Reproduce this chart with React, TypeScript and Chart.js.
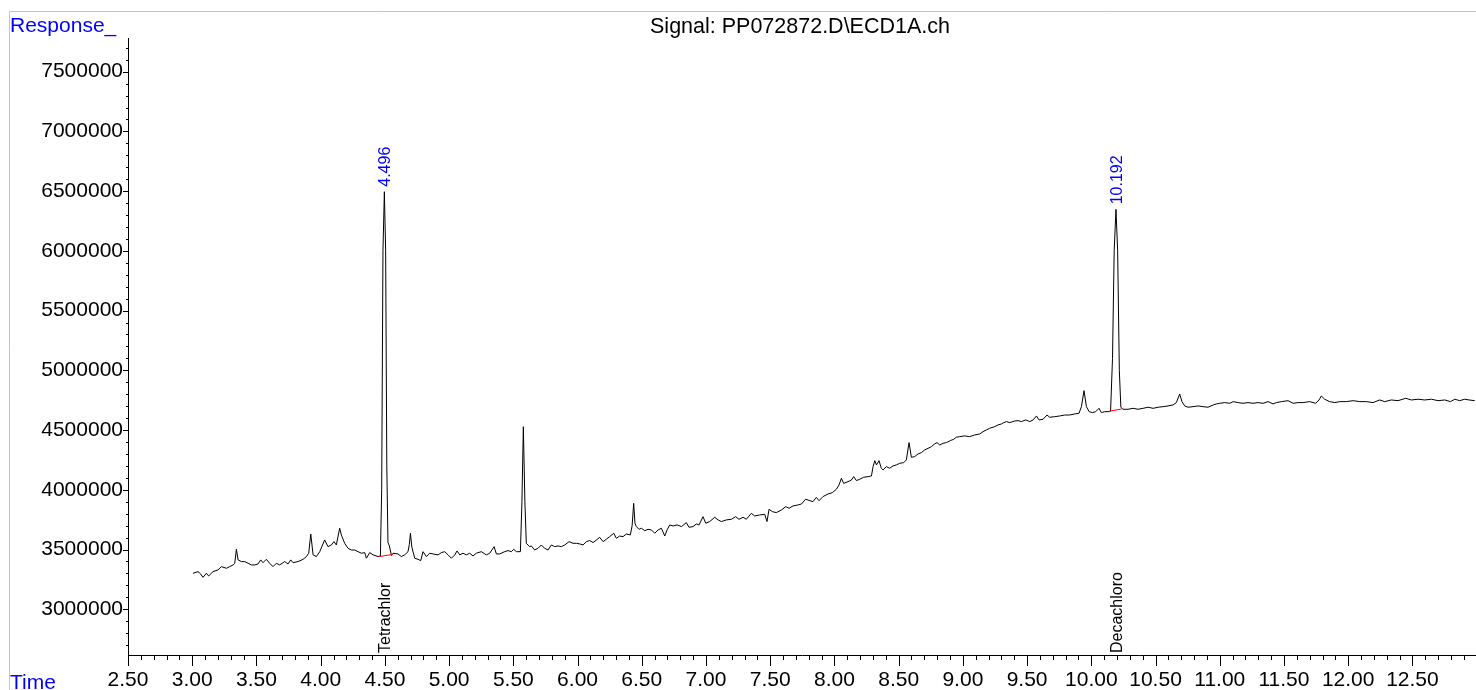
import React, { useEffect, useRef } from "react";
import { Chart, registerables } from "chart.js";

Chart.register(...registerables);

const FONT = '"Liberation Sans", Arial, Helvetica, sans-serif';

const chartTitle = "Signal: PP072872.D\\ECD1A.ch";
const yAxisTitle = "Response_";
const xAxisTitle = "Time";

// Retention time (min) of each sampled point of the trace
const retentionTimes: number[] = [
  3.006, 3.045, 3.066, 3.084, 3.110, 3.128, 3.162, 3.201, 3.227, 3.266,
  3.292, 3.318, 3.331, 3.344, 3.357, 3.383, 3.409, 3.435, 3.461, 3.487,
  3.512, 3.533, 3.551, 3.577, 3.603, 3.629, 3.655, 3.681, 3.720, 3.746,
  3.767, 3.785, 3.824, 3.863, 3.889, 3.907, 3.923, 3.941, 3.967, 3.993,
  4.031, 4.057, 4.083, 4.104, 4.122, 4.148, 4.161, 4.187, 4.213, 4.239,
  4.265, 4.291, 4.317, 4.343, 4.356, 4.382, 4.408, 4.447, 4.465, 4.475,
  4.485, 4.496, 4.506, 4.515, 4.524, 4.535, 4.551, 4.564, 4.602, 4.628,
  4.654, 4.680, 4.690, 4.699, 4.710, 4.732, 4.758, 4.779, 4.797, 4.823,
  4.849, 4.875, 4.914, 4.940, 4.966, 4.992, 5.018, 5.044, 5.062, 5.083,
  5.108, 5.134, 5.160, 5.186, 5.212, 5.251, 5.290, 5.316, 5.350, 5.368,
  5.394, 5.433, 5.459, 5.485, 5.503, 5.524, 5.555, 5.567, 5.578, 5.590,
  5.601, 5.627, 5.640, 5.666, 5.692, 5.718, 5.744, 5.770, 5.796, 5.822,
  5.848, 5.874, 5.900, 5.934, 5.965, 5.991, 6.017, 6.043, 6.069, 6.095,
  6.121, 6.147, 6.172, 6.199, 6.224, 6.250, 6.282, 6.302, 6.328, 6.354,
  6.380, 6.411, 6.425, 6.437, 6.447, 6.458, 6.479, 6.497, 6.523, 6.549,
  6.575, 6.601, 6.627, 6.653, 6.679, 6.697, 6.718, 6.744, 6.775, 6.809,
  6.847, 6.868, 6.899, 6.925, 6.946, 6.977, 6.998, 7.029, 7.068, 7.094,
  7.120, 7.159, 7.198, 7.231, 7.257, 7.289, 7.314, 7.353, 7.379, 7.418,
  7.457, 7.475, 7.491, 7.517, 7.548, 7.587, 7.621, 7.647, 7.678, 7.717,
  7.743, 7.776, 7.808, 7.833, 7.859, 7.880, 7.911, 7.950, 7.984, 8.015,
  8.036, 8.054, 8.072, 8.106, 8.132, 8.150, 8.171, 8.197, 8.228, 8.262,
  8.288, 8.301, 8.314, 8.327, 8.347, 8.365, 8.379, 8.404, 8.430, 8.456,
  8.482, 8.508, 8.539, 8.560, 8.581, 8.599, 8.625, 8.651, 8.677, 8.703,
  8.729, 8.755, 8.781, 8.799, 8.820, 8.846, 8.872, 8.903, 8.929, 8.949,
  8.975, 9.014, 9.053, 9.092, 9.131, 9.157, 9.183, 9.209, 9.248, 9.274,
  9.300, 9.318, 9.339, 9.365, 9.404, 9.430, 9.456, 9.490, 9.521, 9.547,
  9.573, 9.593, 9.624, 9.655, 9.676, 9.715, 9.754, 9.793, 9.832, 9.871,
  9.904, 9.923, 9.943, 9.962, 9.983, 10.009, 10.034, 10.060, 10.078, 10.104,
  10.138, 10.150, 10.165, 10.178, 10.192, 10.205, 10.218, 10.230, 10.247, 10.286,
  10.325, 10.364, 10.403, 10.442, 10.481, 10.520, 10.559, 10.598, 10.636, 10.662,
  10.688, 10.706, 10.727, 10.753, 10.792, 10.831, 10.870, 10.909, 10.948, 10.975,
  11.000, 11.039, 11.078, 11.104, 11.143, 11.181, 11.220, 11.259, 11.298, 11.337,
  11.376, 11.415, 11.441, 11.480, 11.532, 11.571, 11.610, 11.649, 11.700, 11.747,
  11.773, 11.791, 11.817, 11.856, 11.895, 11.934, 11.986, 12.038, 12.090, 12.142,
  12.193, 12.245, 12.284, 12.336, 12.388, 12.448, 12.492, 12.544, 12.596, 12.648,
  12.700, 12.752, 12.796, 12.830, 12.868, 12.907, 12.941, 12.985,
];

// Detector response at each retention time
const responseValues: number[] = [
  3301000, 3315000, 3295000, 3267000, 3301000, 3279000, 3315000, 3329000, 3357000, 3343000,
  3357000, 3371000, 3385000, 3502000, 3413000, 3399000, 3399000, 3385000, 3371000, 3371000,
  3379000, 3413000, 3390000, 3418000, 3385000, 3357000, 3385000, 3371000, 3399000, 3379000,
  3413000, 3390000, 3399000, 3418000, 3441000, 3469000, 3630000, 3455000, 3441000, 3482000,
  3580000, 3524000, 3538000, 3566000, 3538000, 3678000, 3622000, 3552000, 3510000, 3496000,
  3496000, 3482000, 3469000, 3474000, 3427000, 3474000, 3455000, 3441000, 3445000, 4000000,
  6000000, 6495000, 6000000, 4200000, 3560000, 3530000, 3450000, 3469000, 3463000, 3441000,
  3455000, 3482000, 3540000, 3636000, 3520000, 3427000, 3418000, 3407000, 3482000, 3441000,
  3469000, 3463000, 3455000, 3474000, 3482000, 3455000, 3427000, 3455000, 3488000, 3455000,
  3469000, 3455000, 3469000, 3446000, 3469000, 3482000, 3455000, 3469000, 3524000, 3463000,
  3463000, 3482000, 3491000, 3482000, 3502000, 3482000, 3482000, 3900000, 4528000, 3900000,
  3552000, 3524000, 3530000, 3496000, 3510000, 3538000, 3510000, 3496000, 3538000, 3524000,
  3530000, 3524000, 3538000, 3566000, 3552000, 3552000, 3547000, 3538000, 3566000, 3575000,
  3558000, 3580000, 3602000, 3566000, 3586000, 3608000, 3636000, 3594000, 3613000, 3608000,
  3630000, 3622000, 3700000, 3887000, 3720000, 3692000, 3669000, 3678000, 3658000, 3669000,
  3664000, 3636000, 3664000, 3678000, 3613000, 3664000, 3706000, 3697000, 3706000, 3692000,
  3725000, 3686000, 3692000, 3714000, 3706000, 3775000, 3720000, 3734000, 3770000, 3748000,
  3734000, 3748000, 3753000, 3775000, 3753000, 3770000, 3753000, 3803000, 3781000, 3789000,
  3795000, 3734000, 3837000, 3817000, 3809000, 3831000, 3859000, 3845000, 3865000, 3873000,
  3881000, 3921000, 3909000, 3901000, 3937000, 3909000, 3943000, 3965000, 3976000, 4004000,
  4041000, 4096000, 4054000, 4068000, 4082000, 4110000, 4077000, 4088000, 4105000, 4110000,
  4116000, 4194000, 4244000, 4208000, 4244000, 4180000, 4166000, 4194000, 4180000, 4200000,
  4208000, 4222000, 4227000, 4250000, 4395000, 4272000, 4278000, 4300000, 4311000, 4334000,
  4347000, 4361000, 4384000, 4395000, 4375000, 4389000, 4395000, 4412000, 4423000, 4440000,
  4445000, 4451000, 4445000, 4459000, 4467000, 4487000, 4501000, 4515000, 4529000, 4543000,
  4551000, 4562000, 4571000, 4562000, 4576000, 4579000, 4571000, 4585000, 4571000, 4585000,
  4618000, 4585000, 4590000, 4626000, 4607000, 4612000, 4618000, 4626000, 4626000, 4635000,
  4640000, 4696000, 4830000, 4696000, 4654000, 4646000, 4654000, 4682000, 4646000, 4654000,
  4654000, 4660000, 5100000, 6000000, 6348000, 6000000, 5000000, 4690000, 4674000, 4674000,
  4682000, 4674000, 4682000, 4691000, 4682000, 4691000, 4696000, 4702000, 4710000, 4730000,
  4802000, 4738000, 4702000, 4691000, 4696000, 4702000, 4696000, 4691000, 4710000, 4719000,
  4724000, 4730000, 4724000, 4738000, 4730000, 4724000, 4730000, 4724000, 4730000, 4724000,
  4738000, 4719000, 4730000, 4738000, 4746000, 4724000, 4730000, 4730000, 4738000, 4724000,
  4752000, 4785000, 4758000, 4738000, 4730000, 4738000, 4738000, 4746000, 4738000, 4738000,
  4730000, 4752000, 4738000, 4752000, 4746000, 4766000, 4752000, 4758000, 4752000, 4758000,
  4746000, 4752000, 4738000, 4758000, 4746000, 4758000, 4752000, 4746000,
];

// Integrated peaks
const peakTimes = [4.496, 10.192];
const peakApexValues = [6495000, 6348000];
const peakLabels = ["4.496", "10.192"];
const compoundNames = ["Tetrachlor", "Decachloro"];

// Integration baselines (red) for each peak
const baselineStartTimes = [4.452, 10.138];
const baselineStartValues = [3440000, 4657000];
const baselineEndTimes = [4.563, 10.235];
const baselineEndValues = [3460000, 4676000];

// Axis ranges and labelled ticks
const xMin = 2.5;
const xMax = 12.995;
const yMin = 2617000;
const yMax = 7782000;
const xMajorTickLabels = [
  "2.50", "3.00", "3.50", "4.00", "4.50", "5.00", "5.50", "6.00", "6.50", "7.00", "7.50",
  "8.00", "8.50", "9.00", "9.50", "10.00", "10.50", "11.00", "11.50", "12.00", "12.50",
];
const yMajorTickLabels = [
  "3000000", "3500000", "4000000", "4500000", "5000000",
  "5500000", "6000000", "6500000", "7000000", "7500000",
];

const overlayPlugin = {
  id: "chromOverlay",
  afterDraw(chart: any) {
    const { ctx, chartArea, scales } = chart;
    const xs = scales.x;
    const ys = scales.y;
    ctx.save();

    // frame (light green)
    ctx.strokeStyle = "#8ee88e";
    ctx.lineWidth = 1;
    ctx.beginPath();
    ctx.moveTo(9.5, 690);
    ctx.lineTo(9.5, 11.5);
    ctx.lineTo(1476, 11.5);
    ctx.stroke();

    // tick marks
    ctx.strokeStyle = "#000";
    ctx.beginPath();
    for (const t of xs.ticks) {
      const px = Math.round(xs.getPixelForValue(t.value)) + 0.5;
      const major = Math.round(t.value * 10) % 5 === 0;
      ctx.moveTo(px, chartArea.bottom);
      ctx.lineTo(px, chartArea.bottom + (major ? 11 : 5));
    }
    for (const t of ys.ticks) {
      const py = Math.round(ys.getPixelForValue(t.value)) + 0.5;
      const major = Math.round(t.value / 100000) % 5 === 0;
      ctx.moveTo(chartArea.left, py);
      ctx.lineTo(chartArea.left - (major ? 5 : 2), py);
    }
    ctx.stroke();

    // titles
    ctx.font = `21px ${FONT}`;
    ctx.textBaseline = "alphabetic";
    ctx.fillStyle = "#0000ff";
    ctx.textAlign = "left";
    ctx.fillText(yAxisTitle, 10, 31.5);
    ctx.fillText(xAxisTitle, 10, 688.5);
    ctx.fillStyle = "#000";
    ctx.textAlign = "center";
    ctx.font = `21.5px ${FONT}`;
    ctx.fillText(chartTitle, 800, 33);

    // peak labels
    ctx.font = `16px ${FONT}`;
    ctx.textAlign = "left";
    for (let i = 0; i < peakTimes.length; i++) {
      const px = xs.getPixelForValue(peakTimes[i]);
      const py = ys.getPixelForValue(peakApexValues[i]);
      ctx.save();
      ctx.translate(px, py - 5);
      ctx.rotate(-Math.PI / 2);
      ctx.fillStyle = "#0000ff";
      ctx.fillText(peakLabels[i], 0, 5.7);
      ctx.restore();

      ctx.save();
      ctx.translate(px, chartArea.bottom - 2);
      ctx.rotate(-Math.PI / 2);
      ctx.fillStyle = "#000";
      ctx.fillText(compoundNames[i], 0, 5.7);
      ctx.restore();
    }
    ctx.restore();
  },
};

export default function App() {
  const canvasRef = useRef<HTMLCanvasElement | null>(null);

  useEffect(() => {
    const canvas = canvasRef.current;
    if (!canvas) return;

    const trace = retentionTimes.map((t, i) => ({ x: t, y: responseValues[i] }));
    const baselineSets = baselineStartTimes.map((t, i) => ({
      data: [
        { x: t, y: baselineStartValues[i] },
        { x: baselineEndTimes[i], y: baselineEndValues[i] },
      ],
      borderColor: "#ff0000",
      borderWidth: 1,
      pointRadius: 0,
      tension: 0,
      fill: false,
    }));

    const xTickValues: number[] = [];
    for (let i = 25; i <= 129; i++) xTickValues.push(i / 10);
    const yTickValues: number[] = [];
    for (let k = 27; k <= 77; k++) yTickValues.push(k * 100000);

    const chart = new Chart(canvas, {
      type: "line",
      data: {
        datasets: [
          ...baselineSets,
          {
            data: trace,
            borderColor: "#000000",
            borderWidth: 1,
            pointRadius: 0,
            tension: 0,
            fill: false,
          },
        ] as any,
      },
      options: {
        responsive: false,
        animation: false,
        devicePixelRatio: 1,
        layout: { padding: { left: 0, right: 0, top: 38, bottom: 0 } },
        plugins: {
          legend: { display: false },
          tooltip: { enabled: false },
          title: { display: false },
        },
        scales: {
          x: {
            type: "linear",
            min: xMin,
            max: xMax,
            grid: { display: false, drawTicks: false },
            border: { display: true, color: "#000", width: 1 },
            ticks: {
              autoSkip: false,
              maxRotation: 0,
              minRotation: 0,
              padding: 13,
              color: "#000",
              font: { family: FONT, size: 21 },
              callback: (v: any) => {
                const i = Math.round(Number(v) * 10);
                if (i % 5 !== 0) return "";
                return xMajorTickLabels[(i - 25) / 5] ?? "";
              },
            },
            afterBuildTicks: (s: any) => {
              s.ticks = xTickValues.map((v) => ({ value: v }));
            },
            afterFit: (s: any) => {
              s.height = 35;
              s.paddingLeft = 0;
              s.paddingRight = 0;
            },
          },
          y: {
            type: "linear",
            min: yMin,
            max: yMax,
            grid: { display: false, drawTicks: false },
            border: { display: true, color: "#000", width: 1 },
            ticks: {
              autoSkip: false,
              padding: 5,
              color: "#000",
              font: { family: FONT, size: 21 },
              callback: (v: any) => {
                const k = Math.round(Number(v) / 100000);
                if (k % 5 !== 0) return "";
                return yMajorTickLabels[(k - 30) / 5] ?? "";
              },
            },
            afterBuildTicks: (s: any) => {
              s.ticks = yTickValues.map((v) => ({ value: v }));
            },
            afterFit: (s: any) => {
              s.width = 128;
              s.paddingTop = 0;
              s.paddingBottom = 0;
            },
          },
        },
      } as any,
      plugins: [overlayPlugin],
    });

    return () => {
      chart.destroy();
    };
  }, []);

  return (
    <div style={{ position: "absolute", left: 0, top: 0, width: 1476, height: 690, background: "#fff" }}>
      <canvas ref={canvasRef} width={1476} height={690} style={{ display: "block" }} />
    </div>
  );
}
